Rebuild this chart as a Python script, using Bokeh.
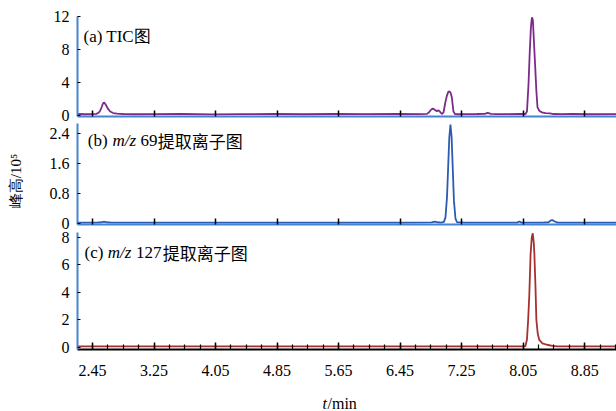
from bokeh.plotting import figure
from bokeh.layouts import column, row
from bokeh.models import Range1d, FixedTicker, Label
from bokeh.embed import file_html
from bokeh.resources import INLINE
import math

# ---------------- data ----------------
tic_t = [2.255, 2.35, 2.45, 2.50, 2.53, 2.55, 2.57, 2.585, 2.597, 2.61, 2.63, 2.65, 2.68, 2.72, 2.77,
         2.85, 3.0, 3.3, 3.6, 4.0, 4.4, 4.8, 5.2, 5.6, 6.0, 6.4, 6.7, 6.80, 6.83, 6.855, 6.876, 6.90,
         6.928, 6.95, 6.97, 6.993, 7.015, 7.036, 7.058, 7.075, 7.092, 7.108, 7.123, 7.135, 7.144,
         7.166, 7.2, 7.3, 7.45, 7.55, 7.59, 7.63, 7.7, 7.85, 8.0, 8.08, 8.10, 8.12, 8.135, 8.15,
         8.16, 8.168, 8.177, 8.19, 8.207, 8.222, 8.237, 8.26, 8.294, 8.34, 8.40, 8.445, 8.55, 8.7,
         8.9, 9.264]
tic_v = [0.2, 0.17, 0.19, 0.22, 0.35, 0.6, 1.05, 1.45, 1.6, 1.5, 1.2, 0.85, 0.5, 0.32, 0.24,
         0.2, 0.17, 0.18, 0.2, 0.16, 0.19, 0.2, 0.17, 0.2, 0.18, 0.2, 0.19, 0.22, 0.45, 0.75, 0.85, 0.72,
         0.55, 0.65, 0.45, 0.2, 0.4, 1.5, 2.4, 2.85, 2.95, 2.75, 2.2, 1.2, 0.5,
         0.18, 0.17, 0.18, 0.2, 0.22, 0.35, 0.22, 0.19, 0.18, 0.2, 0.2, 0.5, 3.85, 7.5, 10.5,
         11.6, 11.9, 11.5, 9.0, 5.9, 3.0, 1.0, 0.6, 0.4, 0.32, 0.28, 0.2, 0.18, 0.2,
         0.17, 0.19]

mz69_t = [2.255, 2.5, 2.57, 2.60, 2.63, 2.70, 3.5, 4.5, 5.5, 6.5, 6.86, 6.90, 6.94, 6.98, 7.02,
          7.04, 7.06, 7.075, 7.09, 7.105, 7.12, 7.135, 7.15, 7.17, 7.19, 7.3, 7.6, 7.97, 8.0, 8.03,
          8.3, 8.38, 8.41, 8.43, 8.46, 8.5, 9.264]
mz69_v = [0.01, 0.01, 0.02, 0.035, 0.02, 0.01, 0.01, 0.01, 0.01, 0.01, 0.015, 0.04, 0.02, 0.01, 0.03,
          0.15, 0.7, 1.5, 2.3, 2.64, 2.3, 1.45, 0.6, 0.12, 0.02, 0.01, 0.01, 0.01, 0.04, 0.01,
          0.01, 0.02, 0.07, 0.08, 0.04, 0.01, 0.01]

mz127_t = [2.255, 3.5, 5.0, 6.5, 7.8, 8.06, 8.08, 8.10, 8.115, 8.13, 8.147, 8.162, 8.175, 8.188,
           8.196, 8.21, 8.222, 8.24, 8.26, 8.30, 8.36, 8.43, 8.5, 9.264]
mz127_v = [0.08, 0.08, 0.08, 0.08, 0.08, 0.08, 0.1, 0.6, 2.0, 3.8, 6.8, 8.0, 8.3, 7.6,
           6.8, 4.5, 2.0, 1.0, 0.55, 0.3, 0.2, 0.12, 0.08, 0.08]

x_ticks = [2.45, 3.25, 4.05, 4.85, 5.65, 6.45, 7.25, 8.05, 8.85]
x_tick_labels = ["2.45", "3.25", "4.05", "4.85", "5.65", "6.45", "7.25", "8.05", "8.85"]
x_minor = [round(2.25 + 0.2 * i, 2) for i in range(36)]

y1_ticks = [0, 4, 8, 12]
y1_labels = ["0", "4", "8", "12"]
y2_ticks = [0, 0.8, 1.6, 2.4]
y2_labels = ["0", "0.8", "1.6", "2.4"]
y3_ticks = [0, 2, 4, 6, 8]
y3_labels = ["0", "2", "4", "6", "8"]

y_title = "峰高/10⁵"
x_title_var = "t"
x_title_unit = "/min"

# ---------------- styles ----------------
AXIS_BLUE = "#4585d0"
PURPLE = "#7d2a8c"
DARK_BLUE = "#2c5bb0"
RED = "#a5302f"
SERIF = "Liberation Serif"
CJK = "Noto Sans CJK SC"

STRIP_W = 30
MAIN_W = 586
x_range = Range1d(2.255, 9.264)


def make_fig(height, top, bottom, yr, yticks, ylabels):
    p = figure(width=MAIN_W, height=height, x_range=x_range, y_range=Range1d(*yr),
               output_backend="svg", toolbar_location=None,
               min_border_left=77 - STRIP_W, min_border_right=0,
               min_border_top=top, min_border_bottom=bottom)
    p.outline_line_color = None
    p.grid.visible = False
    ya = p.yaxis[0]
    ya.ticker = FixedTicker(ticks=yticks, minor_ticks=[])
    ya.major_label_overrides = {t: l for t, l in zip(yticks, ylabels)}
    ya.axis_line_color = AXIS_BLUE
    ya.axis_line_width = 2
    ya.major_tick_line_color = "black"
    ya.major_tick_line_width = 1.2
    ya.major_tick_in = 3
    ya.major_tick_out = 0
    ya.minor_tick_in = 0
    ya.minor_tick_out = 0
    ya.major_label_standoff = 8
    ya.major_label_text_font = SERIF
    ya.major_label_text_font_size = "16px"
    ya.major_label_text_color = "black"
    return p


def top_xaxis(p):
    xa = p.xaxis[0]
    xa.ticker = FixedTicker(ticks=x_ticks, minor_ticks=[])
    xa.axis_line_color = AXIS_BLUE
    xa.axis_line_width = 2
    xa.major_tick_line_color = "black"
    xa.major_tick_line_width = 1.5
    xa.major_tick_in = 6
    xa.major_tick_out = 0
    xa.minor_tick_in = 0
    xa.minor_tick_out = 0
    xa.major_label_text_font_size = "1px"
    xa.major_label_text_color = None
    xa.major_label_standoff = 0


def lbl(p, x, y, text, font=SERIF, style="normal", size="17px"):
    p.add_layout(Label(x=x, y=y, text=text, text_font=font, text_font_style=style,
                       text_font_size=size, text_color="black", text_baseline="alphabetic"))


# panel (a)
p1 = make_fig(123, 16, 7, (-0.1, 12), y1_ticks, y1_labels)
top_xaxis(p1)
p1.line(tic_t, tic_v, line_color=PURPLE, line_width=1.8)
lbl(p1, 2.333, 9.58, "(a) TIC图")

# panel (b)
p2 = make_fig(106, 0, 5, (-0.04, 2.668), y2_ticks, y2_labels)
top_xaxis(p2)
p2.line(mz69_t, mz69_v, line_color=DARK_BLUE, line_width=1.8)
yb = 2.21
lbl(p2, 2.389, yb, "(b)")
lbl(p2, 2.710, yb, "m/z", style="italic")
lbl(p2, 3.074, yb, "69")
lbl(p2, 3.299, yb, "提取离子图", font=CJK)

# panel (c)
p3 = make_fig(158, 3, 38, (-0.145, 8.36), y3_ticks, y3_labels)
xa = p3.xaxis[0]
xa.ticker = FixedTicker(ticks=x_ticks, minor_ticks=x_minor)
xa.major_label_overrides = {t: l for t, l in zip(x_ticks, x_tick_labels)}
xa.axis_line_color = "black"
xa.axis_line_width = 2
xa.major_tick_line_color = "black"
xa.major_tick_line_width = 1.5
xa.minor_tick_line_color = "black"
xa.minor_tick_line_width = 1.2
xa.major_tick_in = 7
xa.major_tick_out = 0
xa.minor_tick_in = 5
xa.minor_tick_out = 0
xa.major_label_standoff = 15
xa.major_label_text_font = SERIF
xa.major_label_text_font_size = "16px"
xa.major_label_text_color = "black"
p3.line(mz127_t, mz127_v, line_color=RED, line_width=1.8)
yc = 6.93
lbl(p3, 2.346, yc, "(c)")
lbl(p3, 2.649, yc, "m/z", style="italic")
lbl(p3, 3.015, yc, "127")
lbl(p3, 3.364, yc, "提取离子图", font=CJK)

# bottom strip with the x title (shares the time axis, frames are aligned in the column)
pb = figure(width=MAIN_W, height=24, x_range=x_range, y_range=Range1d(0, 24),
            output_backend="svg", toolbar_location=None, x_axis_type=None, y_axis_type=None,
            min_border_left=77 - STRIP_W, min_border_right=0, min_border_top=0,
            min_border_bottom=0)
pb.outline_line_color = None
pb.grid.visible = False
lbl(pb, 5.441, 8, x_title_var, style="italic", size="16px")
lbl(pb, 5.506, 8, x_title_unit, size="16px")

# left strip with the y title
pl = figure(width=STRIP_W, height=411, x_range=Range1d(0, STRIP_W), y_range=Range1d(0, 411),
            output_backend="svg", toolbar_location=None, x_axis_type=None, y_axis_type=None,
            min_border_left=0, min_border_right=0, min_border_top=0, min_border_bottom=0)
pl.outline_line_color = None
pl.grid.visible = False
pl.add_layout(Label(x=15.5, y=411 - 180.5, text=y_title, text_font=SERIF, text_font_size="15px",
                    angle=math.pi / 2, text_align="center", text_baseline="middle",
                    text_color="black"))

layout = row(pl, column(p1, p2, p3, pb, spacing=0), spacing=0)
open("out.html", "w").write(file_html(layout, INLINE))
